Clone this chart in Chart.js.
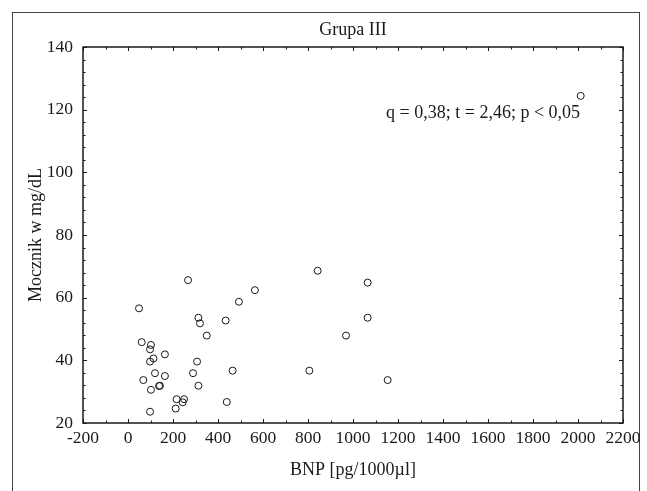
<!DOCTYPE html>
<html>
<head>
<meta charset="utf-8">
<script src="https://cdn.jsdelivr.net/npm/chart.js@4.4.1/dist/chart.umd.min.js"></script>
<style>
  html, body { margin: 0; padding: 0; background: #fff; }
  #wrap { width: 647px; height: 491px; }
</style>
</head>
<body>
<div id="wrap"><canvas id="bnpChart" width="647" height="491"></canvas></div>
<script>
// BNP [pg/1000µl] values
var bnp = [49, 493, 564, 313, 320, 434, 350, 61, 102, 98, 164, 113, 98, 307, 465,
           120, 289, 164, 68, 142, 138, 313, 102, 216, 249, 243, 212, 439, 98,
           267, 843, 1065, 1065, 969, 806, 1154, 2012];
// Mocznik w mg/dL values
var mocznik = [56.6, 58.7, 62.4, 53.6, 51.8, 52.7, 47.9, 45.8, 44.9, 43.5, 41.9, 40.6, 39.6, 39.6, 36.7,
               35.9, 35.9, 35.0, 33.7, 31.9, 31.8, 31.9, 30.6, 27.6, 27.6, 26.6, 24.6, 26.7, 23.6,
               65.6, 68.6, 64.8, 53.6, 47.9, 36.7, 33.7, 124.4];
var xTicks = [-200, 0, 200, 400, 600, 800, 1000, 1200, 1400, 1600, 1800, 2000, 2200];
var yTicks = [20, 40, 60, 80, 100, 120, 140];
var statText = 'q = 0,38; t = 2,46; p < 0,05';

var serif = "'Liberation Serif', 'Times New Roman', serif";
var ink = '#1a1a1a';

// outer frame, box round plot area, inward tick marks and the stats note
var framePlugin = {
    id: 'frame',
    beforeDraw: function (chart) {
        var ctx = chart.ctx;
        ctx.save();
        ctx.fillStyle = '#fff';
        ctx.fillRect(0, 0, chart.width, chart.height);
        ctx.strokeStyle = '#444';
        ctx.lineWidth = 1;
        ctx.strokeRect(12.5, 12.5, 627, 600);
        ctx.restore();
    },
    afterDraw: function (chart) {
        var ctx = chart.ctx;
        var a = chart.chartArea;
        var xs = chart.scales.x, ys = chart.scales.y;
        ctx.save();
        ctx.strokeStyle = ink;
        ctx.lineWidth = 1;
        ctx.beginPath();
        for (var v = -200; v <= 2200; v += 100) {
            var px = Math.round(xs.getPixelForValue(v)) + 0.5;
            var len = (v % 200 === 0) ? 4 : 2.5;
            ctx.moveTo(px, a.bottom); ctx.lineTo(px, a.bottom - len);
            ctx.moveTo(px, a.top); ctx.lineTo(px, a.top + len);
        }
        for (var w = 20; w <= 140; w += 4) {
            var py = Math.round(ys.getPixelForValue(w)) + 0.5;
            var l2 = ((w - 20) % 20 === 0) ? 4 : 2.5;
            ctx.moveTo(a.left, py); ctx.lineTo(a.left + l2, py);
            ctx.moveTo(a.right, py); ctx.lineTo(a.right - l2, py);
        }
        ctx.stroke();
        ctx.lineWidth = 1.5;
        ctx.strokeRect(a.left, a.top, a.right - a.left, a.bottom - a.top);
        // stats note
        ctx.fillStyle = ink;
        ctx.font = '18px ' + serif;
        ctx.textAlign = 'left';
        ctx.textBaseline = 'middle';
        ctx.fillText(statText, xs.getPixelForValue(1147), ys.getPixelForValue(119));
        ctx.restore();
    }
};

var points = bnp.map(function (x, i) { return { x: x, y: mocznik[i] }; });

new Chart(document.getElementById('bnpChart').getContext('2d'), {
    type: 'scatter',
    data: {
        datasets: [{
            label: 'Grupa III',
            data: points,
            pointStyle: 'circle',
            pointRadius: 3.5,
            pointBorderWidth: 1,
            pointBorderColor: ink,
            pointBackgroundColor: 'rgba(255,255,255,0)',
            pointHoverRadius: 3.5
        }]
    },
    options: {
        responsive: false,
        animation: false,
        events: [],
        layout: { padding: { left: 0, right: 24, top: 0, bottom: 0 } },
        plugins: {
            legend: { display: false },
            tooltip: { enabled: false },
            title: {
                display: true,
                text: 'Grupa III',
                fullSize: false,
                color: ink,
                font: { family: serif, size: 18, weight: 'normal' },
                padding: { top: 19, bottom: 6.4 }
            }
        },
        scales: {
            x: {
                type: 'linear',
                min: -200,
                max: 2200,
                afterBuildTicks: function (s) { s.ticks = xTicks.map(function (v) { return { value: v }; }); },
                afterFit: function (s) { s.height = 68; },
                grid: { display: false, drawTicks: false },
                border: { display: false },
                ticks: {
                    color: ink,
                    padding: 5,
                    maxRotation: 0,
                    autoSkip: false,
                    font: { family: serif, size: 17.5 },
                    callback: function (v) { return String(v); }
                },
                title: {
                    display: true,
                    text: 'BNP [pg/1000µl]',
                    color: ink,
                    font: { family: serif, size: 18 },
                    padding: { top: 0, bottom: 10 }
                }
            },
            y: {
                type: 'linear',
                min: 20,
                max: 140,
                afterBuildTicks: function (s) { s.ticks = yTicks.map(function (v) { return { value: v }; }); },
                afterFit: function (s) { s.width = 83; },
                grid: { display: false, drawTicks: false },
                border: { display: false },
                ticks: {
                    color: ink,
                    padding: 10,
                    font: { family: serif, size: 17.5 },
                    callback: function (v) { return String(v); }
                },
                title: {
                    display: true,
                    text: 'Mocznik w mg/dL',
                    color: ink,
                    font: { family: serif, size: 18 },
                    padding: { top: 25, bottom: 0 }
                }
            }
        }
    },
    plugins: [framePlugin]
});
</script>
</body>
</html>
